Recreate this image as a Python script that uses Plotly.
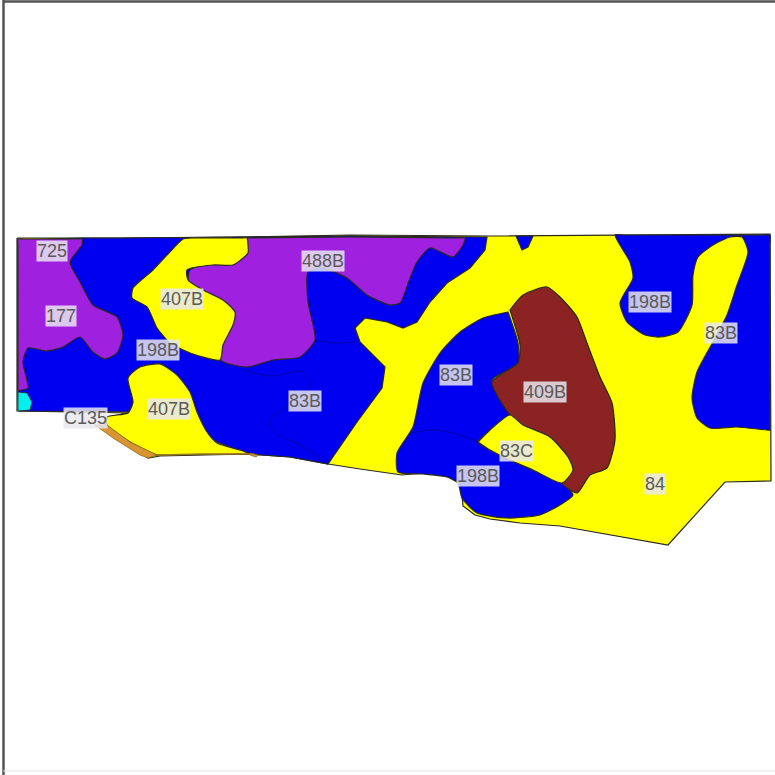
import plotly.graph_objects as go

# Soil map units (x, y in image-sized map units, y down)
boundary = [(17,238),(120,238),(250,237),(350,235),(490,236),(615,235),(770,234),(771,481),(725,482),(668,545),(640,540),(600,533),(560,526),(520,523),(505,521),(490,519),(475,515),(463,506),(461,484),(447,476),(423,473),(402,475),(360,469),(328,464),(290,457),(250,454),(160,456),(148,458),(130,445),(105,425),(107,417),(128,413),(17,411)]
blue_main = [(19,411),(18,392),(18,240),(82,238),(120,238),(250,237),(350,236),(487,237),(485,250),(470,268),(447,283),(430,302),(417,322),(403,328),(387,322),(365,318),(355,328),(360,342),(373,355),(385,367),(382,388),(357,422),(328,464),(290,457),(247,454),(200,435),(135,412),(24,411)]
blue_notch = [(516,236),(533,236),(528,247),(522,250)]
purple_west = [(18,239),(24,239),(76,239),(82,239),(82,245),(70,262),(80,282),(93,305),(117,317),(123,335),(117,353),(105,359),(93,352),(80,337),(63,347),(47,351),(28,348),(23,362),(28,388),(22,390),(18,390),(18,384),(18,245)]
purple_north = [(240,238),(250,238),(350,237),(455,238),(465,238),(463,245),(453,257),(430,248),(417,262),(410,278),(400,303),(390,305),(367,295),(347,278),(320,267),(308,272),(308,302),(315,340),(300,357),(273,360),(247,367),(220,360),(190,300),(190,270),(240,255)]
yellow_407b_north = [(183,239),(167,255),(153,270),(133,288),(132,298),(147,307),(157,328),(170,343),(190,353),(220,360),(223,345),(233,325),(235,312),(223,300),(203,290),(188,280),(187,270),(213,265),(233,265),(248,253),(248,245),(247,238),(240,238),(190,238)]
yellow_407b_south = [(107,417),(128,413),(133,402),(128,378),(140,367),(160,364),(177,375),(190,392),(197,412),(207,432),(217,443),(240,450),(250,454),(240,454),(165,455),(157,455),(130,442),(107,425)]
blue_mid = [(508,312),(483,318),(460,332),(440,353),(423,383),(413,427),(397,453),(398,472),(423,474),(447,477),(458,483),(462,498),(477,513),(507,518),(540,515),(560,505),(573,495),(562,483),(533,470),(510,460),(490,450),(478,442),(490,430),(510,413),(500,400),(492,380),(518,363),(518,343),(508,312)]
brown_409b = [(510,310),(523,295),(547,287),(560,297),(577,317),(587,343),(600,377),(612,403),(615,440),(607,468),(590,475),(577,493),(562,483),(573,470),(568,457),(550,437),(523,425),(510,415),(492,382),(518,363),(520,345),(510,310)]
yellow_83c = [(478,442),(490,430),(510,415),(523,425),(550,437),(568,457),(573,470),(562,483),(533,470),(510,460),(490,450),(478,442)]
blue_east = [(615,235),(625,235),(700,235),(760,235),(770,235),(770,245),(770,340),(770,425),(770,430),(767,430),(737,427),(710,428),(697,418),(692,398),(697,372),(713,342),(727,315),(737,285),(748,252),(742,237),(730,237),(713,245),(698,257),(693,275),(692,305),(678,332),(660,337),(645,335),(627,322),(620,303),(633,278),(630,262)]
cyan_spot = [(18,392),(27,393),(32,402),(30,410),(18,411)]
orange_strip = [(95,425),(107,425),(130,442),(157,455),(148,458),(140,455),(113,438)]
orange_bit = [(250,453),(258,455),(256,457),(250,455)]
seam_west = [(243,370),(270,376),(303,372),(310,385),(290,405),(270,420),(275,432),(300,445),(328,464)]
seam_centre = [(315,340),(335,343),(355,342)]
seam_mid = [(413,433),(433,430),(453,433),(478,442)]
seam_south = [(157,455),(200,454),(250,454)]

label_text = ["725","177","407B","488B","198B","407B","C135","83B","83B","409B","83C","198B","84","198B","83B"]
label_x = [52,61,182,323,158,169,85,305,456,545,516,478,655,650,721]
label_y = [251,316,299,261,350,409,418,401,375,392,451,476,484,302,333]

BLUE, YELLOW, PURPLE, BROWN = "#0000f0", "#ffff00", "#a020e0", "#8b2323"
LINE = "#2a2a20"

fig = go.Figure()

def poly(points, fill, shape="spline", smoothing=0.6, line=LINE, width=1.2):
    fig.add_trace(go.Scatter(
        x=[p[0] for p in points] + [points[0][0]],
        y=[p[1] for p in points] + [points[0][1]],
        mode="lines", fill="toself", fillcolor=fill,
        line=dict(color=line, width=width, shape=shape, **({"smoothing": smoothing} if shape == "spline" else {})),
        hoverinfo="skip", showlegend=False))

def seam(points, color="#0000a8", width=1.0):
    fig.add_trace(go.Scatter(
        x=[p[0] for p in points], y=[p[1] for p in points], mode="lines",
        line=dict(color=color, width=width, shape="spline"), hoverinfo="skip", showlegend=False))

poly(boundary, YELLOW, shape="linear")
poly(blue_main, BLUE, shape="linear")
poly(purple_west, PURPLE)
poly(purple_north, PURPLE)
poly(yellow_407b_north, YELLOW)
poly(yellow_407b_south, YELLOW)
poly(blue_mid, BLUE)
poly(blue_notch, BLUE, shape="linear")
poly(brown_409b, BROWN)
poly(yellow_83c, YELLOW)
poly(blue_east, BLUE)
poly(cyan_spot, "#00f0f0", shape="linear", width=0.8)
poly(orange_strip, "#d9952f", shape="linear", line="#8a6a20", width=0.8)
poly(orange_bit, "#d9952f", shape="linear", line="#8a6a20", width=0.8)
seam(seam_west)
seam(seam_centre)
seam(seam_mid)
seam(seam_south, color="#9a7a20", width=1.5)

for t, x, y in zip(label_text, label_x, label_y):
    fig.add_annotation(x=x, y=y, text=t, showarrow=False,
                       font=dict(family="Liberation Sans", size=18, color="#5a5a5a"),
                       bgcolor="rgba(232,232,238,0.85)", borderpad=0)

fig.update_layout(
    width=775, height=775, margin=dict(l=0, r=0, t=0, b=0),
    paper_bgcolor="white", plot_bgcolor="white", showlegend=False,
    xaxis=dict(range=[0, 775], visible=False, fixedrange=True),
    yaxis=dict(range=[775, 0], visible=False, fixedrange=True),
    shapes=[
        dict(type="line", xref="paper", yref="paper", x0=3.5/775, x1=3.5/775, y0=0, y1=1, line=dict(color="#555555", width=2.5)),
        dict(type="line", xref="paper", yref="paper", x0=0.004, x1=1, y0=1-1.5/775, y1=1-1.5/775, line=dict(color="#555555", width=2.5)),
        dict(type="line", xref="paper", yref="paper", x0=0.004, x1=1, y0=1-771/775, y1=1-771/775, line=dict(color="#e4e4e4", width=1)),
    ],
)
fig.write_html("out.html", config={"displayModeBar": False},
               post_script="document.body.style.margin='0';document.body.style.overflow='hidden';")
